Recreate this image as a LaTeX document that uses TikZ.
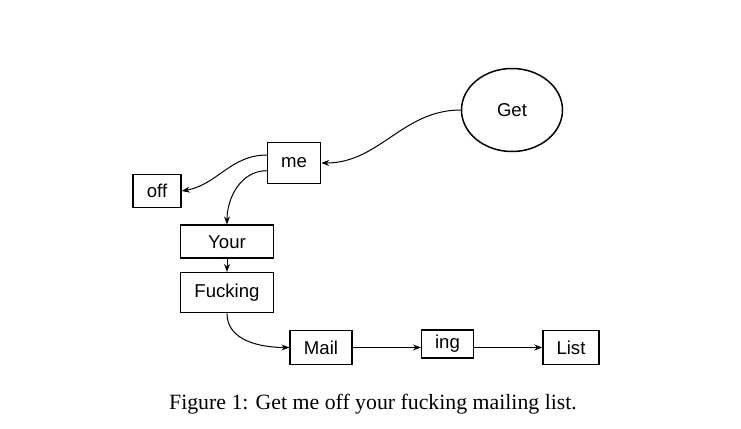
\documentclass[tikz,border=0pt]{standalone}
\usepackage{fontspec}
\setmainfont{Liberation Serif}
\newfontfamily\boxfont{Liberation Sans}
\usetikzlibrary{arrows.meta,shapes.geometric}

\begin{document}
\begin{tikzpicture}[
                                x = 0.5pt,
                                y = -0.5pt,
                                -> ,
                                > = {Stealth[length=4pt,width=3pt]},
                                line width = 0.5pt
                                ]

                                \tikzstyle{word}=[
                                        draw = black,
                                        rectangle,
                                        line width = 0.75pt,
                                        inner sep = 0pt,
                                        font = \boxfont\fontsize{9.3}{11}\selectfont
                                ]

                                \useasboundingbox (0,0) rectangle (741,429);

                                \node[word, ellipse, minimum width=50.5pt, minimum height=41.5pt] (1) at (512,110) {Get};
                                \node[word, minimum width=26.5pt, minimum height=20.5pt] (2) at (294,163) {me};
                                \node[word, minimum width=24pt, minimum height=16.5pt] (3) at (157,191) {off};
                                \node[word, minimum width=46.3pt, minimum height=16.5pt] (4) at (227,241.7) {Your};
                                \node[word, minimum width=46.3pt, minimum height=20pt] (5) at (227,292.7) {Fucking};
                                \node[word, minimum width=30.8pt, minimum height=16.8pt] (6) at (321,347.5) {Mail};
                                \node[word, minimum width=25.8pt, minimum height=14.2pt] (7) at (447.5,344) {ing};
                                \node[word, minimum width=28pt, minimum height=16.8pt] (8) at (571,347.5) {List};

                                \draw (1.west) to[out=180, in=0] (2.east);
                                \draw ([yshift=4pt]2.west) to[out=180, in=10] (3.east);
                                \draw ([yshift=-3.85pt]2.west) to[out=180, in=90] (4.north);
                                \draw (4) -- (5);
                                \draw (5.south) to[out=-90, in=180] (6.west);
                                \draw (6.east) -- (6.east -| 7.west);
                                \draw (8.west -| 7.east) -- (8.west);

                                \node[font=\fontsize{10.9}{13}\selectfont] (cap) at (373,404) {Figure 1: Get me off your fucking mailing list.};
                       \end{tikzpicture}
\end{document}
